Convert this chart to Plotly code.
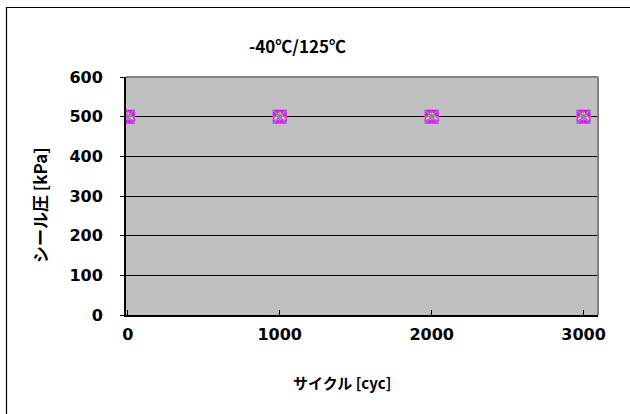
import plotly.graph_objects as go

# Seal pressure after thermal cycling (-40℃/125℃)
cycles = [0, 1000, 2000, 3000]
seal_a = [500, 500, 500, 500]
seal_b = [500, 500, 500, 500]
seal_c = [500, 500, 500, 500]
seal_d = [500, 500, 500, 500]

y_ticks = [0, 100, 200, 300, 400, 500, 600]
x_ticks = [0, 1000, 2000, 3000]

TXT = "DejaVu Sans, sans-serif"
JP = "Noto Sans CJK JP, sans-serif"

fig = go.Figure()
fig.add_trace(go.Scatter(x=cycles, y=seal_a, mode="markers",
                         marker=dict(symbol="square", size=14, color="#FF00FF",
                                     line=dict(width=0))))
fig.add_trace(go.Scatter(x=cycles, y=seal_b, mode="markers",
                         marker=dict(symbol="triangle-up", size=11, color="#FFFF00",
                                     line=dict(width=0))))
fig.add_trace(go.Scatter(x=cycles, y=seal_c, mode="markers",
                         marker=dict(symbol="x-thin-open", size=13,
                                     line=dict(width=1.8, color="#4B1C8C"))))
fig.add_trace(go.Scatter(x=cycles, y=seal_d, mode="markers",
                         marker=dict(symbol="asterisk-open", size=12,
                                     line=dict(width=1.2, color="#4B1C8C"))))

W, H = 630, 414
L, R, T, B = 126, 598, 77, 315
pw, ph = R - L, B - T


def px(x):
    return (x - L) / pw


def py(y):
    return (B - y) / ph


fig.update_layout(
    width=W, height=H,
    margin=dict(l=L, r=W - R, t=T, b=H - B),
    paper_bgcolor="white",
    plot_bgcolor="#C0C0C0",
    showlegend=False,
    xaxis=dict(range=[-12, 3095], tickvals=x_ticks, ticktext=[str(v) for v in x_ticks],
               ticks="inside", ticklen=5, tickcolor="black",
               showgrid=False, zeroline=False, showline=True, linecolor="black", linewidth=2,
               ticklabelstandoff=4,
               tickfont=dict(family=TXT, size=16, color="black", weight="bold")),
    yaxis=dict(range=[0, 600], tickvals=y_ticks, ticktext=[str(v) for v in y_ticks],
               ticks="outside", ticklen=4, tickcolor="black",
               showgrid=True, gridcolor="black", gridwidth=1.3,
               zeroline=False, showline=True, linecolor="black", linewidth=2,
               ticklabelstandoff=14,
               tickfont=dict(family=TXT, size=16, color="black", weight="bold")),
    annotations=[
        dict(text="<b>-40℃/125℃</b>", xref="paper", yref="paper",
             x=px(297), y=py(45), showarrow=False, xanchor="center", yanchor="middle",
             font=dict(family=JP, size=17, color="black")),
        dict(text="<b>サイクル [cyc]</b>", xref="paper", yref="paper",
             x=px(342), y=py(383), showarrow=False, xanchor="center", yanchor="middle",
             font=dict(family=JP, size=15, color="black")),
        dict(text="<b>シール圧 [kPa]</b>", xref="paper", yref="paper",
             x=px(39), y=py(205), showarrow=False, xanchor="center", yanchor="middle",
             textangle=-90, font=dict(family=JP, size=17, color="black")),
    ],
    shapes=[
        # plot area frame (top/right edges in gray)
        dict(type="line", xref="paper", yref="paper", x0=0, x1=1, y0=1, y1=1,
             line=dict(color="#808080", width=2)),
        dict(type="line", xref="paper", yref="paper", x0=1, x1=1, y0=0, y1=1,
             line=dict(color="#808080", width=2)),
        # chart border
        dict(type="rect", xref="paper", yref="paper",
             x0=px(6.5), x1=px(W + 20), y0=py(7.5), y1=py(H + 20),
             line=dict(color="black", width=1.2), fillcolor="rgba(0,0,0,0)"),
    ],
)

fig.write_html("out.html")
